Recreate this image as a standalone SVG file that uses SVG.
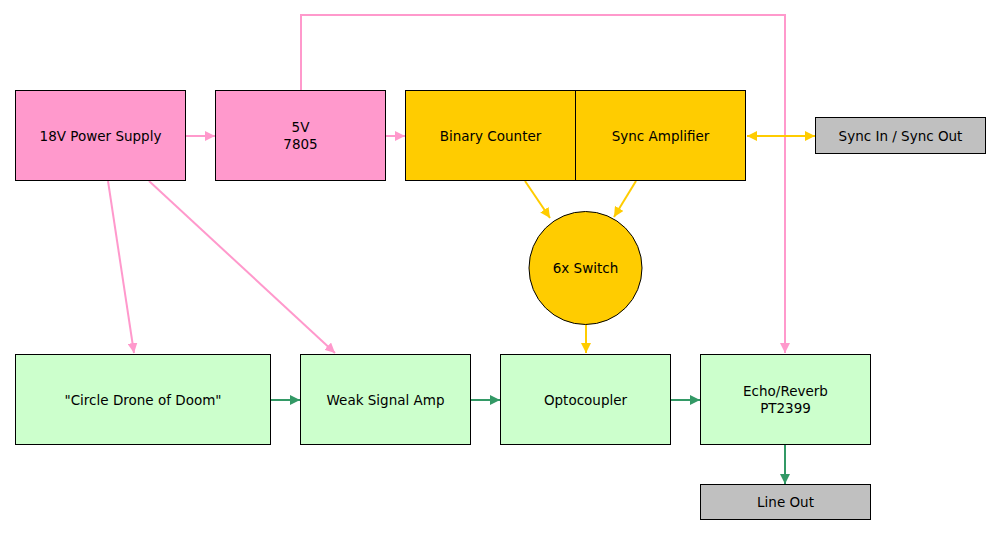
<svg xmlns="http://www.w3.org/2000/svg" width="1001" height="535" viewBox="0 0 1001 535">
<style>
.pink{fill:#FF99CC;stroke:#000;stroke-width:1}
.yellow{fill:#FFCC00;stroke:#000;stroke-width:1}
.green{fill:#CCFFCC;stroke:#000;stroke-width:1}
.grey{fill:#C0C0C0;stroke:#000;stroke-width:1}
text{font-family:"DejaVu Sans","Liberation Sans",sans-serif;font-size:13.5px;fill:#000;text-anchor:middle}
.cp{stroke:#FF99CC;stroke-width:2;fill:none}
.cy{stroke:#FFCC00;stroke-width:2;fill:none}
.cg{stroke:#339966;stroke-width:2;fill:none}
</style>
<defs>
<marker id="ap" viewBox="0 0 10 10" refX="10" refY="5" markerWidth="10" markerHeight="10" markerUnits="userSpaceOnUse" orient="auto"><path d="M0,0 L10,5 L0,10 Z" fill="#FF99CC"/></marker>
<marker id="ay" viewBox="0 0 10 10" refX="10" refY="5" markerWidth="10" markerHeight="10" markerUnits="userSpaceOnUse" orient="auto-start-reverse"><path d="M0,0 L10,5 L0,10 Z" fill="#FFCC00"/></marker>
<marker id="ag" viewBox="0 0 10 10" refX="10" refY="5" markerWidth="10" markerHeight="10" markerUnits="userSpaceOnUse" orient="auto"><path d="M0,0 L10,5 L0,10 Z" fill="#339966"/></marker>
</defs>
<g id="connectors">
<line class="cp" x1="186" y1="136" x2="215" y2="136" marker-end="url(#ap)"/>
<line class="cp" x1="386" y1="136" x2="405" y2="136" marker-end="url(#ap)"/>
<polyline class="cp" points="301,90 301,15 785,15 785,353" marker-end="url(#ap)"/>
<line class="cp" x1="108" y1="181" x2="134" y2="353" marker-end="url(#ap)"/>
<line class="cp" x1="149" y1="181" x2="335" y2="353" marker-end="url(#ap)"/>
<line class="cy" x1="525" y1="181" x2="550" y2="218" marker-end="url(#ay)"/>
<line class="cy" x1="636" y1="181" x2="614" y2="217" marker-end="url(#ay)"/>
<line class="cy" x1="586" y1="324" x2="586" y2="353" marker-end="url(#ay)"/>
<line class="cy" x1="747" y1="136" x2="815" y2="136" marker-start="url(#ay)" marker-end="url(#ay)"/>
<line class="cg" x1="271" y1="400" x2="300" y2="400" marker-end="url(#ag)"/>
<line class="cg" x1="471" y1="400" x2="500" y2="400" marker-end="url(#ag)"/>
<line class="cg" x1="671" y1="400" x2="700" y2="400" marker-end="url(#ag)"/>
<line class="cg" x1="785" y1="445" x2="785" y2="484" marker-end="url(#ag)"/>
</g>
<g id="power18"><rect class="pink" x="15.5" y="90.5" width="170" height="90"/><text x="100.5" y="140.5">18V Power Supply</text></g>
<g id="reg5v"><rect class="pink" x="215.5" y="90.5" width="170" height="90"/><text x="300.5" y="132">5V</text><text x="300.5" y="148.5">7805</text></g>
<g id="counter"><rect class="yellow" x="405.5" y="90.5" width="170" height="90"/><text x="490.5" y="140.5">Binary Counter</text></g>
<g id="syncamp"><rect class="yellow" x="575.5" y="90.5" width="170" height="90"/><text x="660.5" y="140.5">Sync Amplifier</text></g>
<g id="syncio"><rect class="grey" x="815.5" y="117.5" width="170" height="36"/><text x="900.5" y="140.5">Sync In / Sync Out</text></g>
<g id="switch"><circle class="yellow" cx="585.5" cy="268" r="56.5"/><text x="585.5" y="272.5">6x Switch</text></g>
<g id="drone"><rect class="green" x="15.5" y="354.5" width="255" height="90"/><text x="143" y="404.5">"Circle Drone of Doom"</text></g>
<g id="weakamp"><rect class="green" x="300.5" y="354.5" width="170" height="90"/><text x="385.5" y="404.5">Weak Signal Amp</text></g>
<g id="opto"><rect class="green" x="500.5" y="354.5" width="170" height="90"/><text x="585.5" y="404.5">Optocoupler</text></g>
<g id="echo"><rect class="green" x="700.5" y="354.5" width="170" height="90"/><text x="785.5" y="396">Echo/Reverb</text><text x="785.5" y="412.5">PT2399</text></g>
<g id="lineout"><rect class="grey" x="700.5" y="484.5" width="170" height="35"/><text x="785.5" y="506.5">Line Out</text></g>
</svg>
